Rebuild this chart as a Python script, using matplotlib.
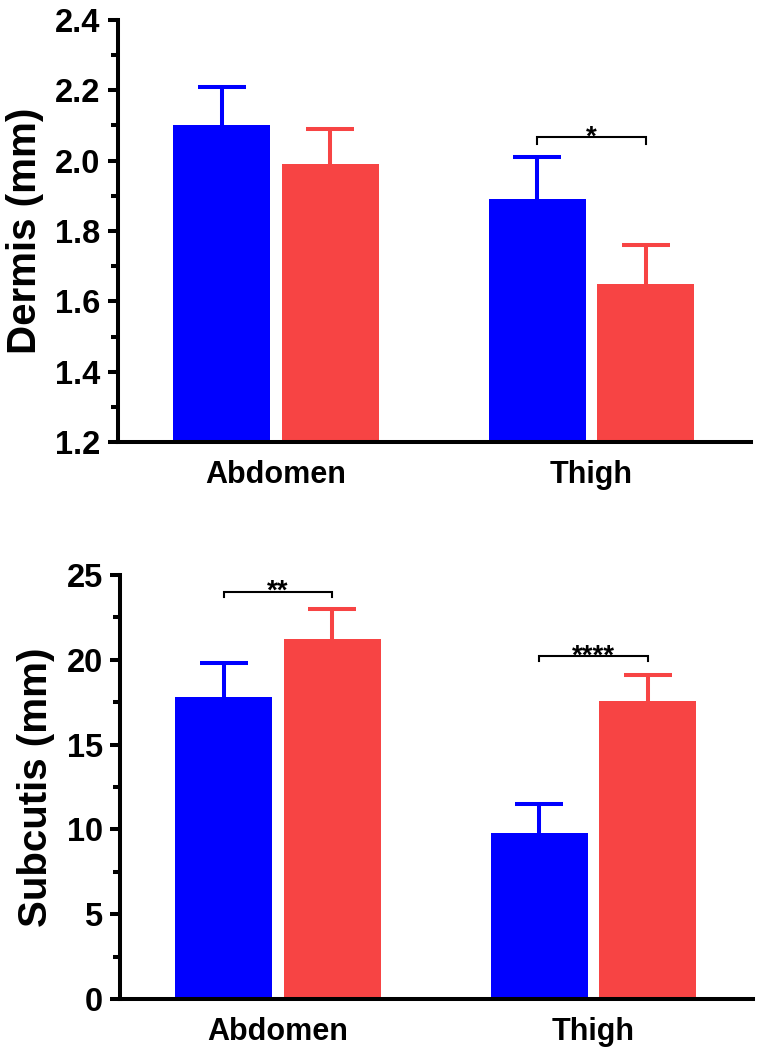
import matplotlib
matplotlib.use('Agg')
import matplotlib.pyplot as plt
from matplotlib.ticker import MultipleLocator, FormatStrFormatter
import numpy as np

plt.rcParams['font.family'] = ['Liberation Sans', 'DejaVu Sans']
plt.rcParams['font.weight'] = 'bold'

sites = ['Abdomen', 'Thigh']

dermis_blue = [2.10, 1.89]
dermis_blue_err = [0.11, 0.12]
dermis_red = [1.99, 1.65]
dermis_red_err = [0.10, 0.11]

subcutis_blue = [17.8, 9.8]
subcutis_blue_err = [2.0, 1.7]
subcutis_red = [21.2, 17.6]
subcutis_red_err = [1.8, 1.5]

# significance brackets: (site index, level, label)
dermis_sig = [(1, 2.066, '*')]
subcutis_sig = [(0, 24.0, '**'), (1, 20.2, '****')]

blue = '#0000ff'
red = '#f74444'
lw = 2.9
offset = 0.172
width = 0.308


def draw_panel(ax, blue_vals, blue_err, red_vals, red_err, ylim, major, minor, ylabel, sig, drop):
    x = np.arange(len(sites))
    for pos, vals, errs, col in [(x - offset, blue_vals, blue_err, blue),
                                 (x + offset, red_vals, red_err, red)]:
        eb = ax.errorbar(pos, vals, yerr=[np.zeros(len(errs)), errs], fmt='none',
                         ecolor=col, elinewidth=lw, capsize=17, capthick=lw, zorder=1)
        # only the upper cap is wanted
        eb[1][0].set_visible(False)
        ax.bar(pos, np.array(vals) - ylim[0], width=width, bottom=ylim[0],
               color=col, zorder=2)

    for side in ['top', 'right']:
        ax.spines[side].set_visible(False)
    for side in ['left', 'bottom']:
        ax.spines[side].set_linewidth(lw)

    ax.set_xlim(-0.5, 1.505)
    ax.set_ylim(*ylim)
    ax.yaxis.set_major_locator(MultipleLocator(major))
    ax.yaxis.set_minor_locator(MultipleLocator(minor))
    ax.tick_params(axis='y', which='major', length=7.5, width=lw, labelsize=23.5, pad=5)
    ax.tick_params(axis='y', which='minor', length=5, width=lw)
    ax.tick_params(axis='x', length=0, labelsize=22, pad=13)
    ax.set_xticks(x)
    ax.set_xticklabels(sites, fontweight='bold')
    ax.set_ylabel(ylabel, fontsize=29, fontweight='bold', labelpad=8)
    if ylim[1] < 10:
        ax.yaxis.set_major_formatter(FormatStrFormatter('%.1f'))

    for i, level, label in sig:
        x0, x1 = i - offset, i + offset
        ax.plot([x0, x0, x1, x1], [level - drop, level, level, level - drop],
                color='black', lw=1.5, solid_joinstyle='miter', clip_on=False)
        ax.annotate(label, xy=(i, level), xytext=(0, -5), textcoords='offset points',
                    ha='center', va='baseline', fontsize=20, fontweight='bold')


fig = plt.figure(figsize=(7.63, 10.5), dpi=100)
ax1 = fig.add_axes([118 / 763, 1 - 442 / 1050, 633 / 763, 422 / 1050])
ax2 = fig.add_axes([120 / 763, 1 - 999 / 1050, 633 / 763, 424 / 1050])

draw_panel(ax1, dermis_blue, dermis_blue_err, dermis_red, dermis_red_err,
           (1.2, 2.4), 0.2, 0.1, 'Dermis (mm)', dermis_sig, 0.02)
draw_panel(ax2, subcutis_blue, subcutis_blue_err, subcutis_red, subcutis_red_err,
           (0, 25), 5, 2.5, 'Subcutis (mm)', subcutis_sig, 0.3)

plt.savefig('out.png', dpi=100)
